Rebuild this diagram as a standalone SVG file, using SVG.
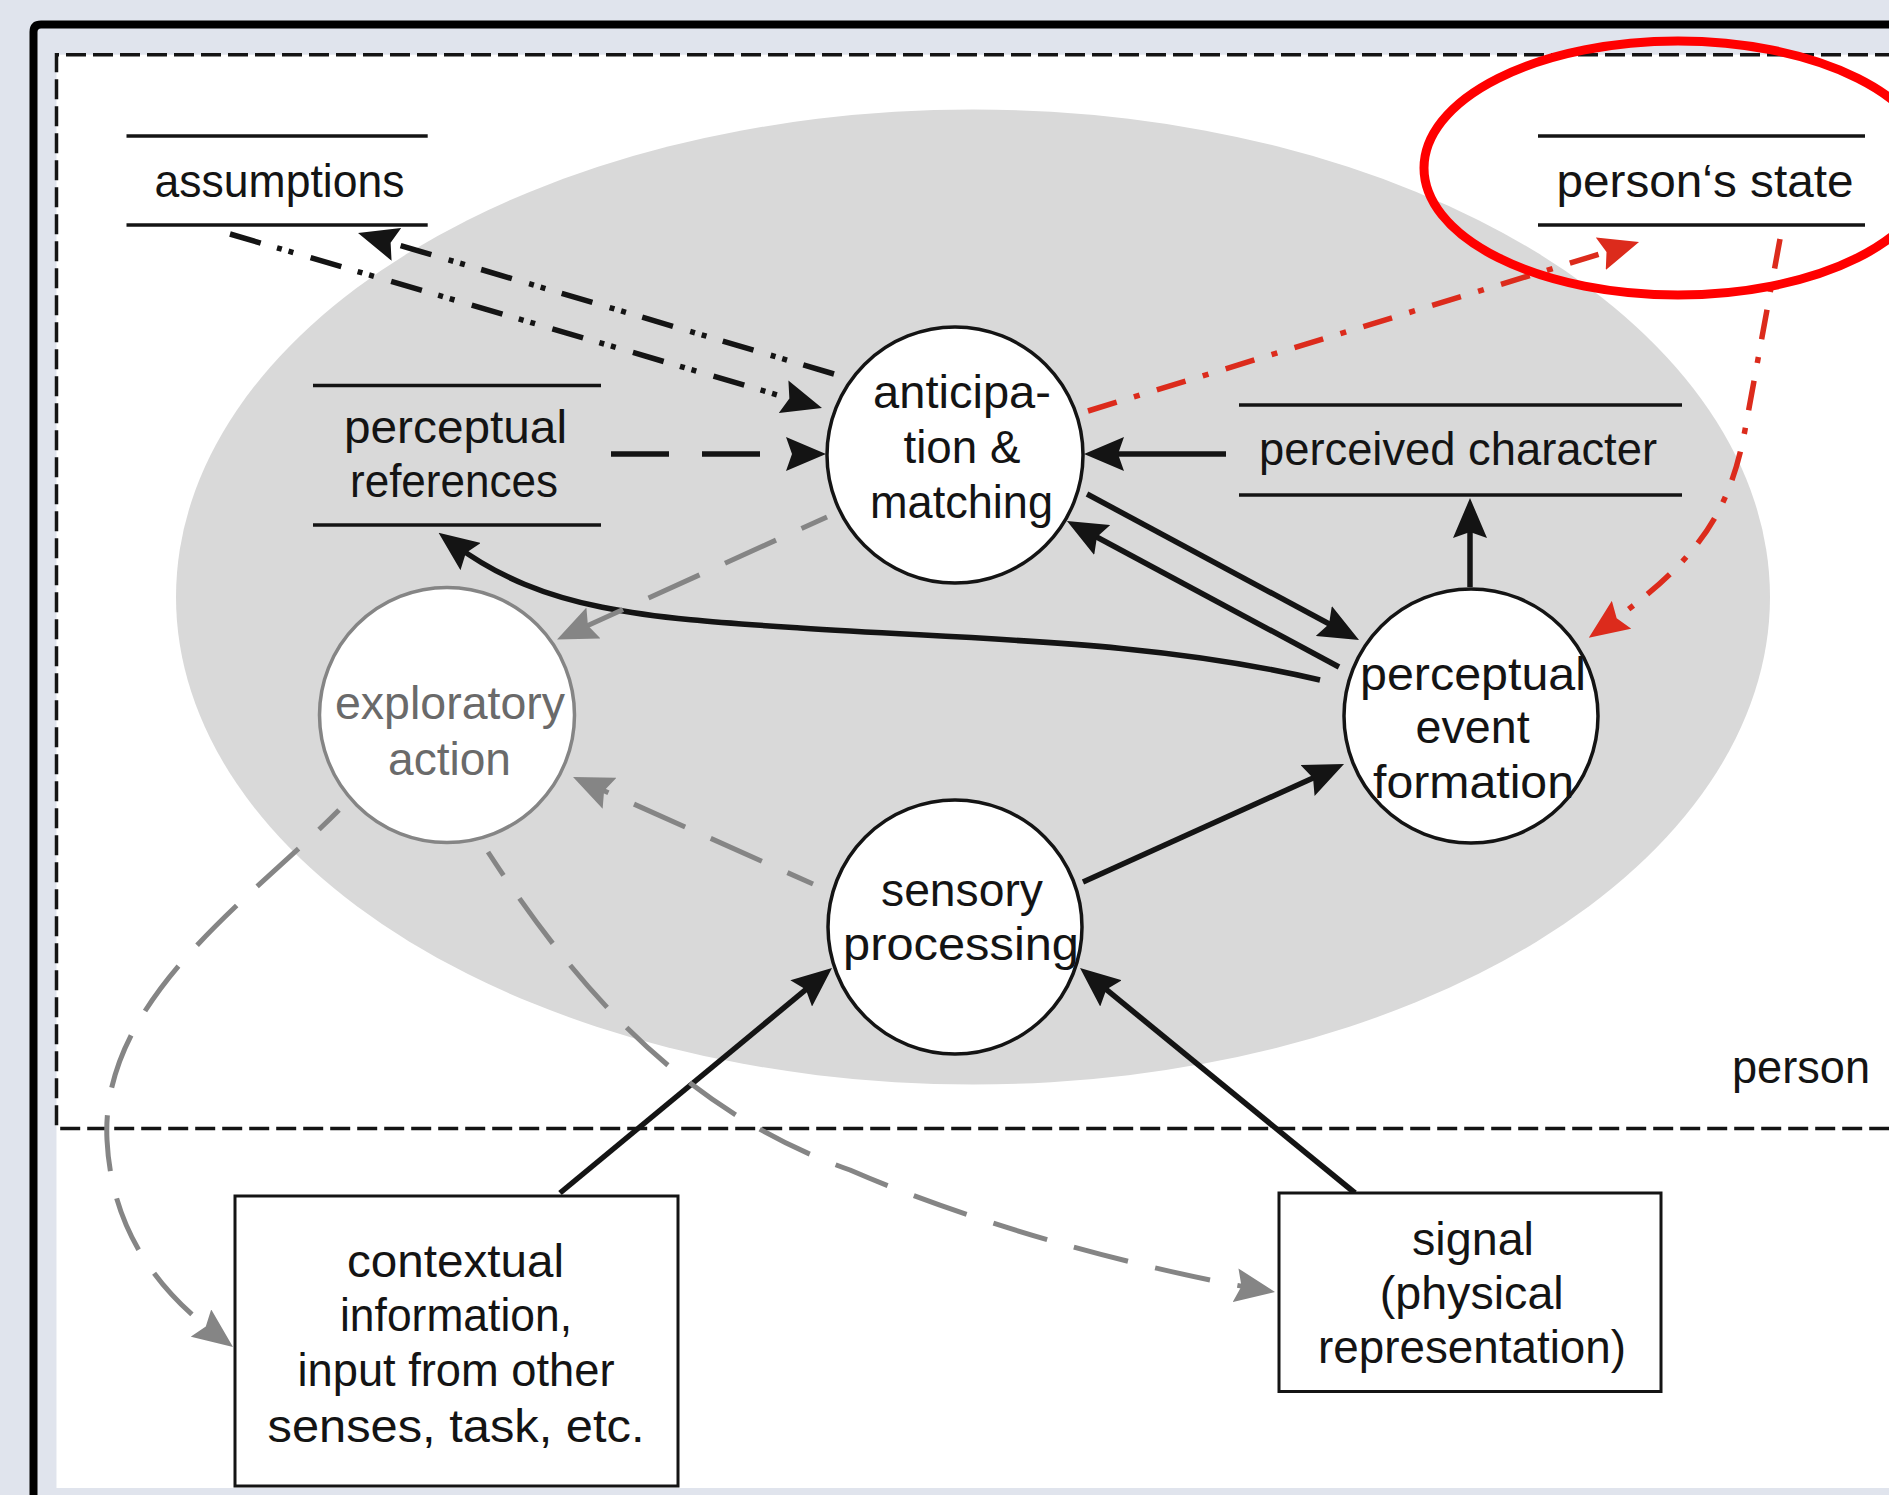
<svg xmlns="http://www.w3.org/2000/svg" width="1889" height="1495" viewBox="0 0 1889 1495">
<defs>
<style>
.t{font-family:"Liberation Sans",Arial,Helvetica,sans-serif;font-size:46px;fill:#141414;text-anchor:middle}
.tg{fill:#6a6a6a}
.store{stroke:#141414;stroke-width:3.5;fill:none}
.node{fill:#fff;stroke:#141414;stroke-width:3.5}
.gnode{fill:#fff;stroke:#858585;stroke-width:3.5}
.box{fill:#fff;stroke:#141414;stroke-width:3}
.blk{stroke:#141414;stroke-width:5.5;fill:none}
.gry{stroke:#858585;stroke-width:5;fill:none;stroke-dasharray:56 28;stroke-dashoffset:28}
.red{stroke:#dc2b1c;stroke-width:5.5;fill:none;stroke-dasharray:30 18 6 18}
.ddd{stroke-dasharray:32 17 5 7 5 18}
.dsh{stroke-dasharray:58 33}
</style>
<marker id="ab" markerUnits="userSpaceOnUse" viewBox="0 0 40 34" markerWidth="40" markerHeight="34" refX="20" refY="17" orient="auto"><path d="M0,0 L40,17 L0,34 L6,17 Z" fill="#141414"/></marker>
<marker id="ag" markerUnits="userSpaceOnUse" viewBox="0 0 40 34" markerWidth="40" markerHeight="34" refX="20" refY="17" orient="auto"><path d="M0,0 L40,17 L0,34 L6,17 Z" fill="#858585"/></marker>
<marker id="ar" markerUnits="userSpaceOnUse" viewBox="0 0 40 34" markerWidth="40" markerHeight="34" refX="20" refY="17" orient="auto"><path d="M0,0 L40,17 L0,34 L6,17 Z" fill="#dc2b1c"/></marker>
</defs>

<rect x="0" y="0" width="1889" height="1495" fill="#e0e4ed"/>
<path d="M33.5,1500 V32 Q33.5,24.5 41,24.5 H1900" fill="none" stroke="#000" stroke-width="8"/>
<rect x="56.5" y="54.7" width="1840" height="1433.3" fill="#fff"/>
<path d="M1895,54.7 H56.5 V1128.5 H1895" fill="none" stroke="#141414" stroke-width="3.5" stroke-dasharray="20 7"/>

<ellipse cx="973" cy="597" rx="797" ry="487.5" fill="#d9d9d9"/>
<text class="t" x="1870" y="1083" style="text-anchor:end" textLength="138" lengthAdjust="spacingAndGlyphs">person</text>

<g id="assumptions">
<line class="store" x1="126.5" y1="136" x2="427.7" y2="136"/>
<line class="store" x1="126.5" y1="225" x2="427.7" y2="225"/>
<text class="t" x="279.5" y="197" textLength="250" lengthAdjust="spacingAndGlyphs">assumptions</text>
</g>
<g id="perceptual-references">
<line class="store" x1="313" y1="385.5" x2="601" y2="385.5"/>
<line class="store" x1="313" y1="525" x2="601" y2="525"/>
<text class="t" x="455.5" y="443" textLength="223" lengthAdjust="spacingAndGlyphs">perceptual</text>
<text class="t" x="454" y="497" textLength="208" lengthAdjust="spacingAndGlyphs">references</text>
</g>
<g id="perceived-character">
<line class="store" x1="1239" y1="405" x2="1682" y2="405"/>
<line class="store" x1="1239" y1="495" x2="1682" y2="495"/>
<text class="t" x="1458" y="465" textLength="398" lengthAdjust="spacingAndGlyphs">perceived character</text>
</g>
<g id="persons-state">
<line class="store" x1="1538" y1="136" x2="1865" y2="136"/>
<line class="store" x1="1538" y1="225" x2="1865" y2="225"/>
<text class="t" x="1705" y="197" textLength="297" lengthAdjust="spacingAndGlyphs">person‘s state</text>
</g>

<g id="connectors">
<path class="blk ddd" d="M230,234 L802.8,402.4" marker-end="url(#ab)"/>
<path class="blk ddd" d="M834,374 L377.2,238.7" marker-end="url(#ab)"/>
<path class="blk dsh" d="M611,454 L806,454" marker-end="url(#ab)"/>
<path class="blk" d="M1226,454 L1104,454" marker-end="url(#ab)"/>
<path class="blk" d="M1087,494 L1341.4,630.5" marker-end="url(#ab)"/>
<path class="blk" d="M1339,667 L1084.6,530.5" marker-end="url(#ab)"/>
<path class="blk" d="M1470,587 L1470,518" marker-end="url(#ab)"/>
<path class="blk" d="M1083,882 L1325.8,772.2" marker-end="url(#ab)"/>
<path class="blk" d="M1355,1193 L1095.5,980.7" marker-end="url(#ab)"/>
<path class="blk" d="M560,1193 L816.6,980.7" marker-end="url(#ab)"/>
<path class="blk" d="M1320,680 C1150,640 980,640 800,628 C650,618 545,612 454.6,544.6" marker-end="url(#ab)"/>
<path class="gry" d="M827,517 L575.2,631.3" marker-end="url(#ag)"/>
<path class="gry" d="M813,884 L591.3,785.1" marker-end="url(#ag)"/>
<path class="gry" d="M339,810 C250,900 100,1000 107,1140 C112,1240 169,1299 217,1335" marker-end="url(#ag)"/>
<path class="gry" d="M488,852 C575,985 680,1110 850,1170 C1000,1235 1176,1275 1255.3,1288.6" marker-end="url(#ag)"/>
<path class="red" d="M1088,411 L1619.9,247.9" marker-end="url(#ar)"/>
<path class="red" d="M1780,239 L1745,430 C1730,510 1700,560 1605.2,626.2" marker-end="url(#ar)"/>
</g>

<g id="anticipation-matching">
<circle class="node" cx="955" cy="455" r="128"/>
<text class="t" x="962" y="408" textLength="178" lengthAdjust="spacingAndGlyphs">anticipa-</text>
<text class="t" x="962" y="463" textLength="117" lengthAdjust="spacingAndGlyphs">tion &amp;</text>
<text class="t" x="961.5" y="518" textLength="183" lengthAdjust="spacingAndGlyphs">matching</text>
</g>
<g id="perceptual-event-formation">
<circle class="node" cx="1471" cy="716" r="127"/>
<text class="t" x="1473" y="690" textLength="226" lengthAdjust="spacingAndGlyphs">perceptual</text>
<text class="t" x="1472.6" y="743" textLength="114" lengthAdjust="spacingAndGlyphs">event</text>
<text class="t" x="1473.5" y="798" textLength="201" lengthAdjust="spacingAndGlyphs">formation</text>
</g>
<g id="exploratory-action">
<circle class="gnode" cx="447" cy="715" r="127.5"/>
<text class="t tg" x="450" y="719" textLength="230" lengthAdjust="spacingAndGlyphs">exploratory</text>
<text class="t tg" x="449.5" y="775" textLength="123" lengthAdjust="spacingAndGlyphs">action</text>
</g>
<g id="sensory-processing">
<circle class="node" cx="955" cy="927" r="127"/>
<text class="t" x="962" y="906" textLength="162" lengthAdjust="spacingAndGlyphs">sensory</text>
<text class="t" x="961" y="960" textLength="236" lengthAdjust="spacingAndGlyphs">processing</text>
</g>
<g id="contextual-information">
<rect class="box" x="235" y="1196" width="443" height="290"/>
<text class="t" x="455.5" y="1277" textLength="217" lengthAdjust="spacingAndGlyphs">contextual</text>
<text class="t" x="456" y="1331" textLength="232" lengthAdjust="spacingAndGlyphs">information,</text>
<text class="t" x="456" y="1386" textLength="317" lengthAdjust="spacingAndGlyphs">input from other</text>
<text class="t" x="456" y="1442" textLength="377" lengthAdjust="spacingAndGlyphs">senses, task, etc.</text>
</g>
<g id="signal">
<rect class="box" x="1279" y="1193" width="382" height="198.5"/>
<text class="t" x="1473" y="1255" textLength="122" lengthAdjust="spacingAndGlyphs">signal</text>
<text class="t" x="1471.7" y="1309" textLength="184" lengthAdjust="spacingAndGlyphs">(physical</text>
<text class="t" x="1472" y="1363" textLength="308" lengthAdjust="spacingAndGlyphs">representation)</text>
</g>

<g id="highlight">
<ellipse cx="1678" cy="168" rx="254" ry="127" fill="none" stroke="#ff0000" stroke-width="9"/>
</g>
</svg>
